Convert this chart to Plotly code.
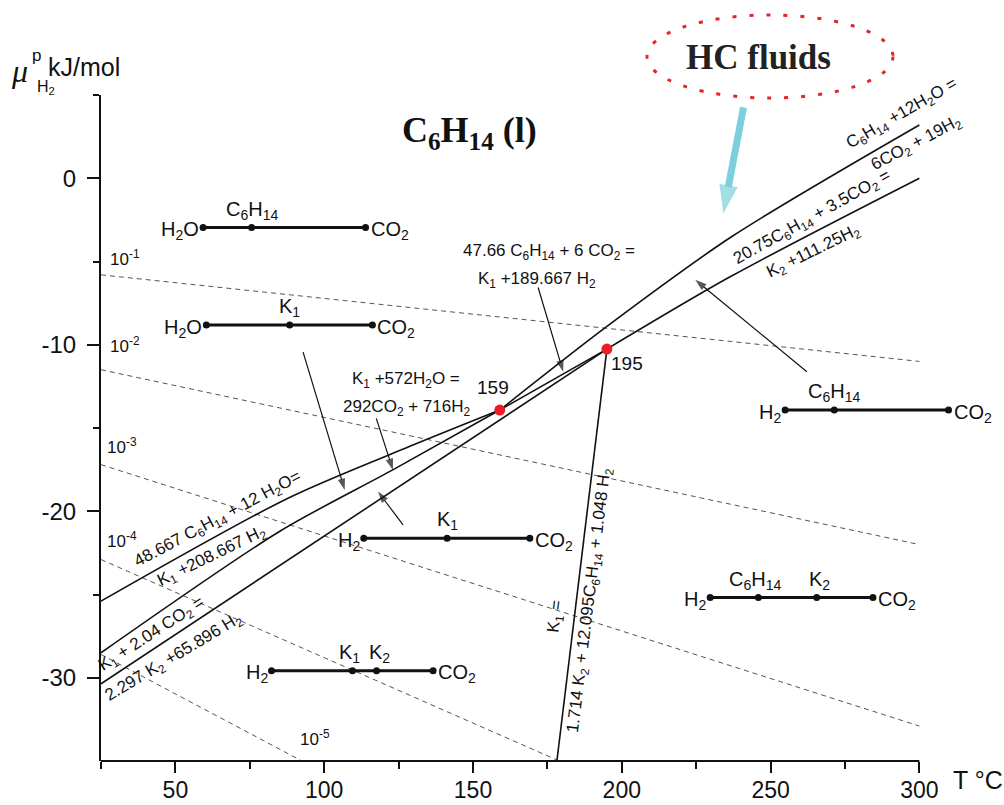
import plotly.graph_objects as go

# ---------------- figure geometry ----------------
W, H = 1004, 805
ML, MR, MT, MB = 101, 40, 95, 44

X_RANGE = [25, 315]
Y_RANGE = [-35, 5]
X_AXIS_END = 300
x_tickvals = [50, 100, 150, 200, 250, 300]
x_ticktext = ["50", "100", "150", "200", "250", "300"]
x_minor_vals = [25, 75, 125, 175, 225, 275]
y_tickvals = [0, -10, -20, -30]
y_ticktext = ["0", "-10", "-20", "-30"]
y_minor_vals = [5, -5, -15, -25]

SANS = "Liberation Sans, Arial, sans-serif"
SERIF = "Liberation Serif, Times New Roman, serif"

# ---------------- isobars (p_H2) ----------------
iso_text = ["10<sup>-1</sup>", "10<sup>-2</sup>", "10<sup>-3</sup>", "10<sup>-4</sup>", "10<sup>-5</sup>"]
iso_x0 = [25, 25, 25, 25, 25]
iso_y0 = [-5.8, -11.5, -17.2, -22.9, -28.6]
iso_x1 = [300, 300, 300, 179, 92.5]
iso_y1 = [-11.0, -22.0, -32.9, -35.0, -35.0]
iso_label_x = [27.3, 27.3, 26.3, 26.3, 91.1]
iso_label_y = [-4.8, -10.0, -16.1, -21.7, -33.6]

# ---------------- reaction curves ----------------
curveA_x = [25, 88.0, 128.8, 159]          # 48.667 C6H14 + 12 H2O = K1 + 208.667 H2
curveA_y = [-25.4, -19.2, -16.1, -13.92]
curveB_x = [25, 85.1, 123.2, 159]          # K1 + 572 H2O = 292 CO2 + 716 H2
curveB_y = [-28.5, -21.2, -17.5, -13.92]
curveC_x = [159, 195]                      # 47.66 C6H14 + 6 CO2 = K1 + 189.667 H2
curveC_y = [-13.92, -10.26]
curveD_x = [159, 195, 237, 300]            # C6H14 + 12 H2O = 6 CO2 + 19 H2
curveD_y = [-13.92, -8.9, -3.5, 3.2]
curveE_x = [25, 195]                       # K1 + 2.04 CO2 = 2.297 K2 + 65.896 H2
curveE_y = [-30.36, -10.26]
curveF_x = [195, 236.4, 300]               # 20.75 C6H14 + 3.5 CO2 = K2 + 111.25 H2
curveF_y = [-10.26, -5.92, 0.0]
curveG_x = [195, 178.2]                    # K1 = 1.714 K2 + 12.095 C6H14 + 1.048 H2
curveG_y = [-10.26, -35.0]

curves = [(curveA_x, curveA_y), (curveB_x, curveB_y), (curveC_x, curveC_y),
          (curveD_x, curveD_y), (curveE_x, curveE_y), (curveF_x, curveF_y),
          (curveG_x, curveG_y)]

# invariant points
inv_x = [159, 195]
inv_y = [-13.92, -10.26]
inv_text = ["159", "195"]
inv_label_x = [156.7, 201.7]
inv_label_y = [-12.57, -11.14]

# ---------------- composition bars ----------------
bars = [
    (["H<sub>2</sub>O", "C<sub>6</sub>H<sub>14</sub>", "CO<sub>2</sub>"], [59.3, 75.6, 113.9], -2.96),
    (["H<sub>2</sub>O", "K<sub>1</sub>", "CO<sub>2</sub>"], [60.4, 88.4, 116.2], -8.82),
    (["H<sub>2</sub>", "K<sub>1</sub>", "CO<sub>2</sub>"], [113.3, 141.3, 169.1], -21.62),
    (["H<sub>2</sub>", "K<sub>1</sub>", "K<sub>2</sub>", "CO<sub>2</sub>"], [82.3, 109.5, 117.6, 136.6], -29.58),
    (["H<sub>2</sub>", "C<sub>6</sub>H<sub>14</sub>", "CO<sub>2</sub>"], [254.9, 271.4, 309.8], -13.92),
    (["H<sub>2</sub>", "C<sub>6</sub>H<sub>14</sub>", "K<sub>2</sub>", "CO<sub>2</sub>"], [229.7, 245.9, 265.5, 284.4], -25.18),
]

# ---------------- pointer arrows (tail -> head) ----------------
arrow_tail_x = [92.9, 117.5, 126.5, 171.9, 262.2]
arrow_tail_y = [-10.44, -14.42, -20.82, -6.56, -11.62]
arrow_head_x = [106.9, 123.1, 118.1, 180.3, 224.7]
arrow_head_y = [-18.72, -17.52, -18.82, -11.62, -6.1]

hc_arrow_x = [240.9, 234.1]
hc_arrow_y = [4.26, -2.12]

# ---------------- reaction labels ----------------
rot_text = [
    "48.667 C<sub>6</sub>H<sub>14</sub> + 12 H<sub>2</sub>O=",
    "K<sub>1</sub> +208.667 H<sub>2</sub>",
    "K<sub>1</sub> + 2.04 CO<sub>2</sub> =",
    "2.297 K<sub>2</sub> +65.896 H<sub>2</sub>",
    "C<sub>6</sub>H<sub>14</sub> +12H<sub>2</sub>O =",
    "6CO<sub>2</sub> + 19H<sub>2</sub>",
    "20.75C<sub>6</sub>H<sub>14</sub> + 3.5CO<sub>2</sub> =",
    "K<sub>2</sub> +111.25H<sub>2</sub>",
    "K<sub>1</sub> =",
    "1.714 K<sub>2</sub> + 12.095C<sub>6</sub>H<sub>14</sub> + 1.048 H<sub>2</sub>",
]
rot_x = [64.2, 62.2, 42.0, 49.4, 294.4, 298.9, 264.1, 264.4, 177.9, 189.3]
rot_y = [-20.52, -22.74, -27.42, -28.8, 3.84, 2.08, -2.37, -4.42, -26.34, -25.32]
rot_angle = [-28, -26, -33, -31, -30, -28, -29, -26, -83, -83]

flat_text = [
    "47.66 C<sub>6</sub>H<sub>14</sub> + 6 CO<sub>2</sub> =",
    "K<sub>1</sub> +189.667 H<sub>2</sub>",
    "K<sub>1</sub> +572H<sub>2</sub>O =",
    "292CO<sub>2</sub> + 716H<sub>2</sub>",
]
flat_x = [175.5, 171.5, 127.5, 127.8]
flat_y = [-4.44, -6.12, -12.09, -13.8]


def paper_x(px):
    return (px - ML) / (W - ML - MR)


def paper_y(py):
    return 1 - (py - MT) / (H - MT - MB)


fig = go.Figure()

# isobars
for x0, y0, x1, y1 in zip(iso_x0, iso_y0, iso_x1, iso_y1):
    fig.add_trace(go.Scatter(x=[x0, x1], y=[y0, y1], mode="lines",
                             line=dict(color="#555555", width=1, dash="5px,4px"),
                             hoverinfo="skip"))

# reaction curves
for cx, cy in curves:
    fig.add_trace(go.Scatter(x=cx, y=cy, mode="lines",
                             line=dict(color="#111111", width=1.6, shape="spline", smoothing=0.8),
                             hoverinfo="skip"))

# pointer arrows
for tx, ty, hx, hy in zip(arrow_tail_x, arrow_tail_y, arrow_head_x, arrow_head_y):
    fig.add_trace(go.Scatter(x=[tx, hx], y=[ty, hy], mode="lines+markers",
                             line=dict(color="#111111", width=1.2),
                             marker=dict(symbol="arrow", size=[0, 12], color="#111111",
                                         angleref="previous", line=dict(width=0)),
                             hoverinfo="skip"))

# HC fluids arrow
fig.add_trace(go.Scatter(x=hc_arrow_x, y=hc_arrow_y, mode="lines+markers",
                         line=dict(color="#7ccfdb", width=7),
                         marker=dict(symbol="arrow", size=[0, 30], color="#7ccfdb",
                                     angleref="previous", line=dict(width=0)),
                         hoverinfo="skip"))

# composition bars
for labels, bx, by in bars:
    fig.add_trace(go.Scatter(x=bx, y=[by] * len(bx), mode="lines+markers",
                             line=dict(color="#111111", width=3),
                             marker=dict(color="#111111", size=7),
                             cliponaxis=False, hoverinfo="skip"))

# invariant points
fig.add_trace(go.Scatter(x=inv_x, y=inv_y, mode="markers",
                         marker=dict(color="#ee1c25", size=11), hoverinfo="skip"))

ann = []
# isobar labels
for t, x, y in zip(iso_text, iso_label_x, iso_label_y):
    ann.append(dict(x=x, y=y, text=t, xanchor="left", yanchor="middle", showarrow=False,
                    font=dict(family=SANS, size=17, color="#111111")))

# bar labels
BAR_FONT = dict(family=SANS, size=20, color="#111111")
for labels, bx, by in bars:
    ann.append(dict(x=bx[0], y=by, text=labels[0], xanchor="right", yanchor="middle",
                    xshift=-2, yshift=-3, showarrow=False, font=BAR_FONT))
    ann.append(dict(x=bx[-1], y=by, text=labels[-1], xanchor="left", yanchor="middle",
                    xshift=3, yshift=-3, showarrow=False, font=BAR_FONT))
    mids = labels[1:-1]
    for k, (lab, x) in enumerate(zip(mids, bx[1:-1])):
        spread = 0 if len(mids) == 1 else (-3 if k == 0 else 3)
        ann.append(dict(x=x, y=by, text=lab, xanchor="center", yanchor="bottom",
                        xshift=spread, yshift=3, showarrow=False, font=BAR_FONT))

# invariant point labels
for t, x, y in zip(inv_text, inv_label_x, inv_label_y):
    ann.append(dict(x=x, y=y, text=t, showarrow=False,
                    font=dict(family=SANS, size=19, color="#111111")))

# reaction labels
for t, x, y, a in zip(rot_text, rot_x, rot_y, rot_angle):
    ann.append(dict(x=x, y=y, text=t, textangle=a, showarrow=False,
                    font=dict(family=SANS, size=17, color="#111111")))
for t, x, y in zip(flat_text, flat_x, flat_y):
    ann.append(dict(x=x, y=y, text=t, showarrow=False,
                    font=dict(family=SANS, size=17, color="#111111")))


def paper_text(px, py, text, font):
    return dict(xref="paper", yref="paper", x=paper_x(px), y=paper_y(py),
                xanchor="center", yanchor="middle", text=text, showarrow=False, font=font)


# titles & axis labels (paper coordinates)
ann.append(paper_text(469, 132, "<b>C<sub>6</sub>H<sub>14</sub> (l)</b>",
                      dict(family=SERIF, size=36, color="#111111")))
ann.append(paper_text(758, 58, "<b>HC fluids</b>",
                      dict(family=SERIF, size=35, color="#222222")))
ann.append(paper_text(978, 780, "T °C", dict(family=SANS, size=25, color="#111111")))
ann.append(paper_text(19, 71, "<i>μ</i>", dict(family=SERIF, size=32, color="#111111")))
ann.append(paper_text(36, 55, "p", dict(family=SANS, size=17, color="#111111")))
ann.append(paper_text(46, 88, "H<sub>2</sub>", dict(family=SANS, size=16, color="#111111")))
ann.append(paper_text(84, 67, "kJ/mol", dict(family=SANS, size=25, color="#111111")))

shapes = [
    # x axis line (ends at 300)
    dict(type="line", xref="x", yref="paper", x0=X_RANGE[0], x1=X_AXIS_END, y0=0, y1=0,
         line=dict(color="#111111", width=2)),
    # dotted ellipse around "HC fluids"
    dict(type="circle", xref="paper", yref="paper",
         x0=paper_x(647), x1=paper_x(893), y0=paper_y(98), y1=paper_y(15),
         line=dict(color="#e3242b", width=3, dash="4px,13px")),
]

fig.update_layout(
    width=W, height=H,
    margin=dict(l=ML, r=MR, t=MT, b=MB, autoexpand=False),
    paper_bgcolor="white", plot_bgcolor="white",
    showlegend=False,
    annotations=ann,
    shapes=shapes,
    xaxis=dict(range=X_RANGE, showline=False, showgrid=False, zeroline=False,
               automargin=False,
               tickmode="array", tickvals=x_tickvals, ticktext=x_ticktext, ticks="outside",
               ticklen=11, tickwidth=2, tickcolor="#111111",
               tickfont=dict(family=SANS, size=23, color="#111111"),
               ticklabelstandoff=-3,
               minor=dict(tickmode="array", tickvals=x_minor_vals, ticks="outside",
                          ticklen=7, tickwidth=2, tickcolor="#111111")),
    yaxis=dict(range=Y_RANGE, showline=True, linewidth=2, linecolor="#111111",
               showgrid=False, zeroline=False, automargin=False,
               tickmode="array", tickvals=y_tickvals, ticktext=y_ticktext, ticks="outside",
               ticklen=12, tickwidth=2, tickcolor="#111111",
               tickfont=dict(family=SANS, size=24, color="#111111"),
               ticklabelstandoff=6,
               minor=dict(tickmode="array", tickvals=y_minor_vals, ticks="outside",
                          ticklen=6, tickwidth=2, tickcolor="#111111")),
)

fig.write_html("out.html",
               config={"displayModeBar": False},
               post_script="document.body.style.margin='0px';"
                           "document.documentElement.style.overflow='hidden';")
